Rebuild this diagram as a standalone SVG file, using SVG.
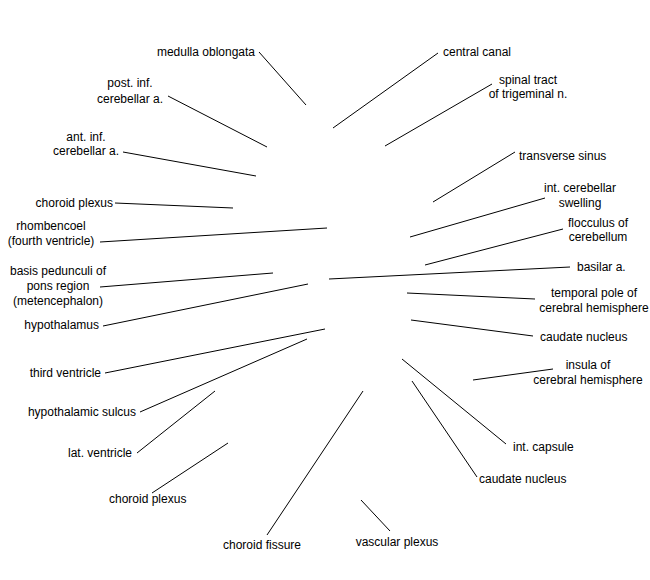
<svg xmlns="http://www.w3.org/2000/svg" width="650" height="580" viewBox="0 0 650 580">
<style>
text{font-family:"Liberation Sans",Arial,sans-serif;font-size:12px;fill:#000}
.m{text-anchor:middle}
.e{text-anchor:end}
#connectors line{stroke:#000;stroke-width:1;fill:none}
</style>
<rect width="650" height="580" fill="#fff"/>
<g id="connectors">
<line x1="259" y1="52" x2="306" y2="105"/>
<line x1="168" y1="96" x2="267" y2="147"/>
<line x1="123" y1="152" x2="256" y2="176"/>
<line x1="115" y1="203" x2="233" y2="208"/>
<line x1="100" y1="242" x2="327" y2="228"/>
<line x1="100" y1="287" x2="273" y2="273"/>
<line x1="103" y1="326" x2="308" y2="284"/>
<line x1="105" y1="373" x2="325" y2="329"/>
<line x1="140" y1="412" x2="307" y2="339"/>
<line x1="137" y1="453" x2="215" y2="391"/>
<line x1="152" y1="493" x2="228" y2="443"/>
<line x1="267" y1="535" x2="363" y2="391"/>
<line x1="361" y1="500" x2="390" y2="531"/>
<line x1="438" y1="53" x2="333" y2="128"/>
<line x1="492" y1="84" x2="385" y2="146"/>
<line x1="515" y1="152" x2="433" y2="202"/>
<line x1="545" y1="198" x2="410" y2="237"/>
<line x1="563" y1="229" x2="425" y2="265"/>
<line x1="570" y1="267" x2="329" y2="279"/>
<line x1="535" y1="299" x2="407" y2="293"/>
<line x1="533" y1="336" x2="411" y2="320"/>
<line x1="553" y1="369" x2="473" y2="380"/>
<line x1="506" y1="444" x2="402" y2="359"/>
<line x1="477" y1="477" x2="412" y2="381"/>
</g>
<g id="medulla-oblongata"><text class="e" x="255" y="56">medulla oblongata</text></g>
<g id="post-inf-cerebellar-a"><text class="m" x="130" y="87">post. inf.</text><text class="m" x="130" y="103">cerebellar a.</text></g>
<g id="ant-inf-cerebellar-a"><text class="m" x="86" y="141">ant. inf.</text><text class="m" x="86" y="155">cerebellar a.</text></g>
<g id="choroid-plexus-1"><text class="e" x="113" y="207">choroid plexus</text></g>
<g id="rhombencoel"><text class="m" x="51" y="230">rhombencoel</text><text class="m" x="51" y="245">(fourth ventricle)</text></g>
<g id="basis-pedunculi"><text class="m" x="58" y="275">basis pedunculi of</text><text class="m" x="58" y="290">pons region</text><text class="m" x="58" y="305">(metencephalon)</text></g>
<g id="hypothalamus"><text class="e" x="99" y="329">hypothalamus</text></g>
<g id="third-ventricle"><text class="e" x="101" y="377">third ventricle</text></g>
<g id="hypothalamic-sulcus"><text class="e" x="136" y="416">hypothalamic sulcus</text></g>
<g id="lat-ventricle"><text class="e" x="132" y="457">lat. ventricle</text></g>
<g id="choroid-plexus-2"><text x="109" y="503">choroid plexus</text></g>
<g id="choroid-fissure"><text class="m" x="262" y="549">choroid fissure</text></g>
<g id="vascular-plexus"><text class="m" x="397" y="546">vascular plexus</text></g>
<g id="central-canal"><text x="443" y="56">central canal</text></g>
<g id="spinal-tract"><text class="m" x="528" y="84">spinal tract</text><text class="m" x="528" y="98">of trigeminal n.</text></g>
<g id="transverse-sinus"><text x="519" y="160">transverse sinus</text></g>
<g id="int-cerebellar-swelling"><text class="m" x="580" y="192">int. cerebellar</text><text class="m" x="580" y="207">swelling</text></g>
<g id="flocculus"><text class="m" x="598" y="227">flocculus of</text><text class="m" x="598" y="241">cerebellum</text></g>
<g id="basilar-a"><text x="577" y="271">basilar a.</text></g>
<g id="temporal-pole"><text class="m" x="594" y="297">temporal pole of</text><text class="m" x="594" y="312">cerebral hemisphere</text></g>
<g id="caudate-nucleus-1"><text x="540" y="341">caudate nucleus</text></g>
<g id="insula"><text class="m" x="588" y="369">insula of</text><text class="m" x="588" y="384">cerebral hemisphere</text></g>
<g id="int-capsule"><text x="513" y="451">int. capsule</text></g>
<g id="caudate-nucleus-2"><text x="479" y="483">caudate nucleus</text></g>
</svg>
